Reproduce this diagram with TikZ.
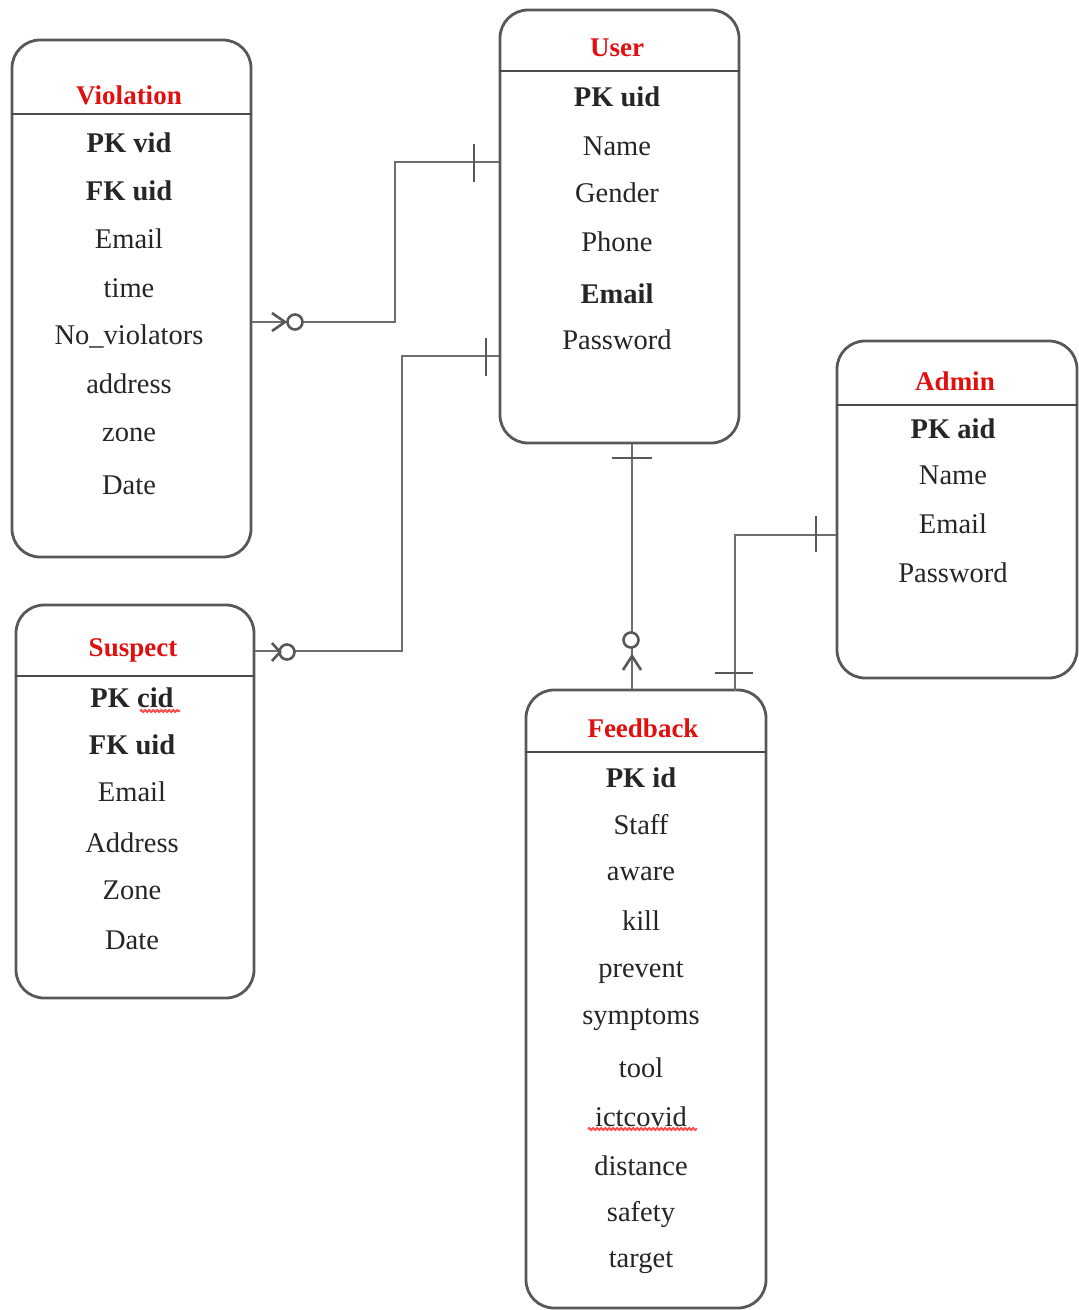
\documentclass[tikz,border=0pt]{standalone}
\usepackage{fontspec}
\setmainfont{Liberation Serif}
\usetikzlibrary{decorations.pathmorphing}
\definecolor{boxgray}{HTML}{585858}
\definecolor{linkgray}{HTML}{6E6E6E}
\definecolor{titlered}{HTML}{E01010}
\begin{document}
\begin{tikzpicture}[x=1pt,y=-1pt,
  entity/.style={draw=boxgray, line width=2.8pt, rounded corners=28pt, inner sep=0pt, fill=white},
  headrule/.style={draw=boxgray!85!black, line width=2.8pt},
  title/.style={text=titlered, font=\fontsize{27}{29}\selectfont\bfseries, inner sep=0pt},
  attr/.style={font=\fontsize{28.5}{30}\selectfont, inner sep=0pt, text=black!85},
  key/.style={attr, font=\fontsize{28.5}{30}\selectfont\bfseries},
  rel/.style={draw=linkgray, line width=2.8pt},
  endmark/.style={draw=linkgray!80!black, line width=2.6pt},
  spell/.style={draw=red!70, line width=2pt, decorate, decoration={snake, amplitude=0.9pt, segment length=4pt}}]
\useasboundingbox (0,0) rectangle (1079,1310);

% entity boxes
\node[entity, minimum width=239pt, minimum height=517pt] (viol) at (131.5,298.5) {};
\node[entity, minimum width=239pt, minimum height=433pt] (user) at (619.5,226.5) {};
\node[entity, minimum width=240pt, minimum height=337pt] (admin) at (957,509.5) {};
\node[entity, minimum width=238pt, minimum height=393pt] (susp) at (135,801.5) {};
\node[entity, minimum width=240pt, minimum height=618pt] (feed) at (646,999) {};

% header rules
\draw[headrule] (viol.west |- 0,114) -- (viol.east |- 0,114);
\draw[headrule] (user.west |- 0,71) -- (user.east |- 0,71);
\draw[headrule] (admin.west |- 0,405) -- (admin.east |- 0,405);
\draw[headrule] (susp.west |- 0,676) -- (susp.east |- 0,676);
\draw[headrule] (feed.west |- 0,752) -- (feed.east |- 0,752);

% titles
\node[title] (violT) at (129,95) {Violation};
\node[title] (userT) at (617,48) {User};
\node[title] (adminT) at (955,381) {Admin};
\node[title] (suspT) at (133,650) {Suspect};
\node[title] (feedT) at (643,728) {Feedback};

% Violation attributes
\node[key]  (v1) at (129,143) {PK vid};
\node[key]  (v2) at (129,191) {FK uid};
\node[attr] (v3) at (129,239) {Email};
\node[attr] (v4) at (129,288) {time};
\node[attr] (v5) at (129,336) {No\_violators};
\node[attr] (v6) at (129,384) {address};
\node[attr] (v7) at (129,435) {zone};
\node[attr] (v8) at (129,485) {Date};

% User attributes
\node[key]  (u1) at (617,97) {PK uid};
\node[attr] (u2) at (617,146) {Name};
\node[attr] (u3) at (617,193) {Gender};
\node[attr] (u4) at (617,242) {Phone};
\node[key]  (u5) at (617,294) {Email};
\node[attr] (u6) at (617,340) {Password};

% Admin attributes
\node[key]  (a1) at (953,429) {PK aid};
\node[attr] (a2) at (953,475) {Name};
\node[attr] (a3) at (953,524) {Email};
\node[attr] (a4) at (953,573) {Password};

% Suspect attributes
\node[key]  (s1) at (132,698) {PK cid};
\node[key]  (s2) at (132,745) {FK uid};
\node[attr] (s3) at (132,792) {Email};
\node[attr] (s4) at (132,843) {Address};
\node[attr] (s5) at (132,890) {Zone};
\node[attr] (s6) at (132,940) {Date};

% Feedback attributes
\node[key]  (f1) at (641,778) {PK id};
\node[attr] (f2) at (641,825) {Staff};
\node[attr] (f3) at (641,874) {aware};
\node[attr] (f4) at (641,921) {kill};
\node[attr] (f5) at (641,972) {prevent};
\node[attr] (f6) at (641,1020) {symptoms};
\node[attr] (f7) at (641,1068) {tool};
\node[attr] (f8) at (641,1117) {ictcovid};
\node[attr] (f9) at (641,1166) {distance};
\node[attr] (f10) at (641,1215) {safety};
\node[attr] (f11) at (641,1263) {target};

% spelling underlines
\draw[spell] (140,711) -- (180,711);
\draw[spell] (588,1129) -- (697,1129);

% relationships
\draw[rel] (viol.east |- 0,322) -- (395,322) |- (user.west |- 0,162);
\draw[rel] (susp.east |- 0,651) -- (402,651) |- (user.west |- 0,356);
\draw[rel] (user.south -| 632,0) -- (feed.north -| 632,0);
\draw[rel] (admin.west |- 0,535) -- (735,535) -- (735,691);

% one-side bars
\draw[endmark] (474,144) -- (474,182);
\draw[endmark] (486,338) -- (486,376);
\draw[endmark] (612,458) -- (652,458);
\draw[endmark] (816,516) -- (816,552);
\draw[endmark] (715,673) -- (753,673);

% zero-or-many ends
\draw[endmark, fill=white] (295,322) circle (7.5);
\draw[endmark] (272,313) -- (285,322) -- (272,331);
\draw[endmark, fill=white] (287,652) circle (7.5);
\draw[endmark] (272,643) -- (280,652) -- (272,661);
\draw[endmark, fill=white] (631,640) circle (7.5);
\draw[endmark] (623,670) -- (632,656) -- (641,670);
\end{tikzpicture}
\end{document}
